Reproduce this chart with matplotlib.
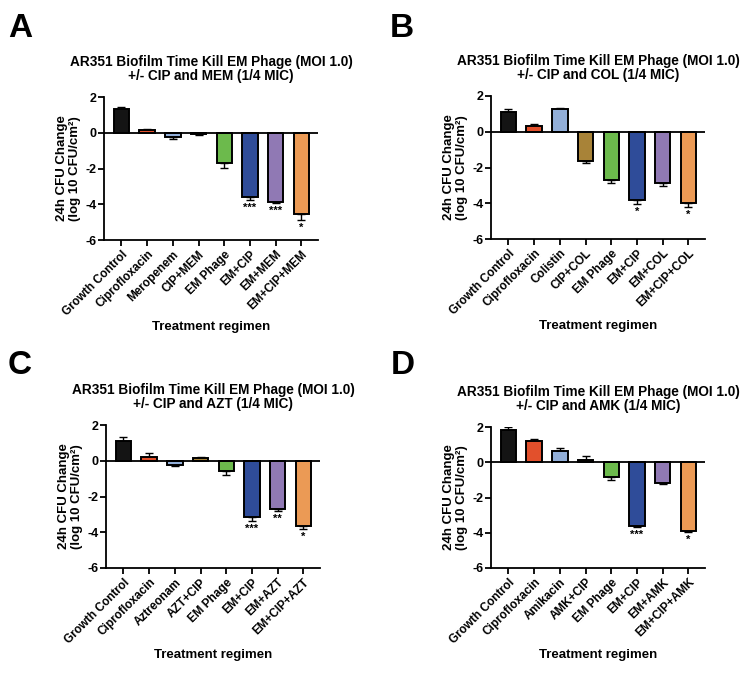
import numpy as np
import matplotlib.pyplot as plt

plt.rcParams['font.family'] = ['Liberation Sans', 'DejaVu Sans']
plt.rcParams['font.weight'] = 'bold'
plt.rcParams['axes.linewidth'] = 1.3
plt.rcParams['axes.unicode_minus'] = False

# panel A: meropenem
labels_a = ['Growth Control', 'Ciprofloxacin', 'Meropenem', 'CIP+MEM',
            'EM Phage', 'EM+CIP', 'EM+MEM', 'EM+CIP+MEM']
means_a = [1.33, 0.15, -0.22, -0.08, -1.68, -3.57, -3.85, -4.56]
err_a = [0.10, 0.08, 0.14, 0.04, 0.30, 0.18, 0.06, 0.30]
stars_a = ['', '', '', '', '', '***', '***', '*']

# panel B: colistin
labels_b = ['Growth Control', 'Ciprofloxacin', 'Colistin', 'CIP+COL',
            'EM Phage', 'EM+CIP', 'EM+COL', 'EM+CIP+COL']
means_b = [1.12, 0.32, 1.25, -1.63, -2.70, -3.83, -2.84, -3.98]
err_b = [0.17, 0.10, 0.08, 0.10, 0.15, 0.21, 0.21, 0.25]
stars_b = ['', '', '', '', '', '*', '', '*']

# panel C: aztreonam
labels_c = ['Growth Control', 'Ciprofloxacin', 'Aztreonam', 'AZT+CIP',
            'EM Phage', 'EM+CIP', 'EM+AZT', 'EM+CIP+AZT']
means_c = [1.10, 0.22, -0.23, 0.16, -0.58, -3.13, -2.70, -3.67]
err_c = [0.23, 0.21, 0.05, 0.04, 0.22, 0.26, 0.10, 0.17]
stars_c = ['', '', '', '', '', '***', '**', '*']

# panel D: amikacin
labels_d = ['Growth Control', 'Ciprofloxacin', 'Amikacin', 'AMK+CIP',
            'EM Phage', 'EM+CIP', 'EM+AMK', 'EM+CIP+AMK']
means_d = [1.85, 1.22, 0.66, 0.15, -0.82, -3.60, -1.17, -3.92]
err_d = [0.17, 0.10, 0.17, 0.22, 0.19, 0.09, 0.08, 0.05]
stars_d = ['', '', '', '', '', '***', '', '*']

drugs = ['MEM', 'COL', 'AZT', 'AMK']
bar_colors = ['#141414', '#E2502C', '#92AFD9', '#A88338',
              '#6CBA4C', '#2F4C99', '#9079B4', '#EB9A55']

panels = [
    ('A', labels_a, means_a, err_a, stars_a),
    ('B', labels_b, means_b, err_b, stars_b),
    ('C', labels_c, means_c, err_c, stars_c),
    ('D', labels_d, means_d, err_d, stars_d),
]

W, H = 751, 674
fig = plt.figure(figsize=(W / 100, H / 100), dpi=100)

# axes boxes in pixels: left, top, right, bottom
boxes = [(104, 97, 318, 240), (491, 96, 705, 239),
         (106, 425, 320, 568), (491, 427, 705, 568)]
letter_xy = [(8, 13), (390, 13), (8, 350), (391, 350)]

for (letter, labels, means, errs, stars), box, lxy, drug in zip(
        panels, boxes, letter_xy, drugs):
    l, t, r, b = box
    ax = fig.add_axes([l / W, 1 - b / H, (r - l) / W, (b - t) / H])
    x = np.arange(len(labels))
    means = np.array(means)
    errs = np.array(errs)

    ax.bar(x, means, width=0.6, color=bar_colors, edgecolor='black',
           linewidth=1.4, zorder=3)
    lower = np.where(means < 0, errs, 0)
    upper = np.where(means >= 0, errs, 0)
    ax.errorbar(x, means, yerr=[lower, upper], fmt='none', ecolor='black',
                elinewidth=1.0, capsize=3.2, capthick=1.0, zorder=2)
    ax.axhline(0, color='black', linewidth=1.3, zorder=4)

    for xi, m, e, s in zip(x, means, errs, stars):
        if s:
            ax.annotate(s, (xi, m - e), xytext=(0, -2),
                        textcoords='offset points', ha='center', va='top',
                        fontsize=8, fontweight='bold')

    ax.set_xlim(-0.68, 7.65)
    ax.set_ylim(-6, 2)
    ax.set_yticks([-6, -4, -2, 0, 2])
    ax.set_xticks(x)
    ax.set_xticklabels(labels, rotation=45, ha='right',
                       rotation_mode='anchor', fontsize=8.5)
    ax.tick_params(axis='y', labelsize=9, length=4, width=1.3, pad=1.5)
    ax.tick_params(axis='x', length=4, width=1.3, pad=2)
    ax.spines['top'].set_visible(False)
    ax.spines['right'].set_visible(False)

    ax.set_ylabel('24h CFU Change\n(log 10 CFU/cm²)',
                  fontsize=9.5, fontweight='bold', labelpad=3,
                  linespacing=1.1)
    ax.set_xlabel('Treatment regimen', fontsize=9.5, fontweight='bold',
                  labelpad=2)
    ax.set_title('AR351 Biofilm Time Kill EM Phage (MOI 1.0)\n'
                 '+/- CIP and {} (1/4 MIC)'.format(drug),
                 fontsize=9.8, fontweight='bold', pad=12, linespacing=1.05)

    fig.text(lxy[0] / W, 1 - lxy[1] / H, letter, fontsize=24,
             fontweight='bold', va='top', ha='left')

fig.savefig('out.png', dpi=100, facecolor='white')
